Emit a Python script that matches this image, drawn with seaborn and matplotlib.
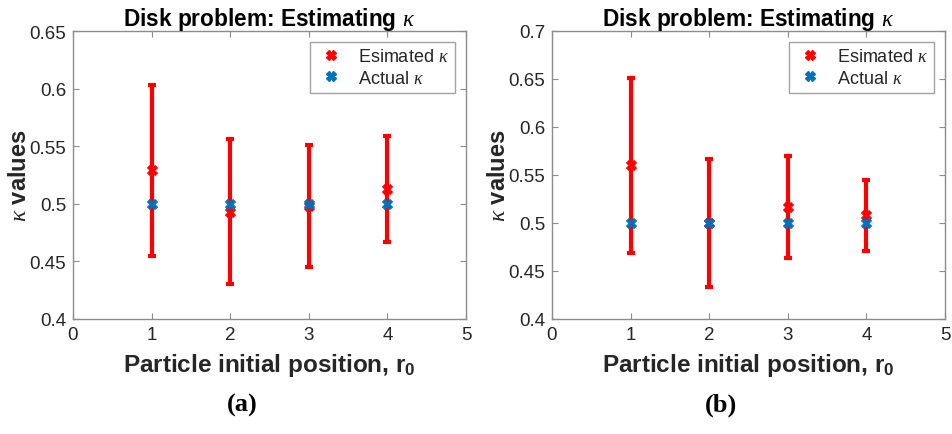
import numpy as np
import pandas as pd
import matplotlib
matplotlib.use("Agg")
import matplotlib.pyplot as plt
import seaborn as sns
from matplotlib.lines import Line2D

sns.set_theme(style="white")
plt.rcParams['font.family'] = ['Liberation Sans', 'DejaVu Sans']
plt.rcParams['mathtext.fontset'] = 'custom'
plt.rcParams['mathtext.it'] = 'Liberation Serif:italic'
plt.rcParams['mathtext.rm'] = 'Liberation Sans'
plt.rcParams['mathtext.bf'] = 'Liberation Sans:bold'

positions = [1, 2, 3, 4]
actual = [0.5, 0.5, 0.5, 0.5]

est_a = [0.529, 0.493, 0.498, 0.513]
err_a = [0.074, 0.063, 0.053, 0.046]

est_b = [0.560, 0.500, 0.517, 0.508]
err_b = [0.091, 0.067, 0.053, 0.037]

panels = [
    dict(est=est_a, err=err_a, ylim=(0.4, 0.65), yticks=[0.4, 0.45, 0.5, 0.55, 0.6, 0.65],
         ylabels=["0.4", "0.45", "0.5", "0.55", "0.6", "0.65"], caption="(a)", cap_x=242),
    dict(est=est_b, err=err_b, ylim=(0.4, 0.7), yticks=[0.4, 0.45, 0.5, 0.55, 0.6, 0.65, 0.7],
         ylabels=["0.4", "0.45", "0.5", "0.55", "0.6", "0.65", "0.7"], caption="(b)", cap_x=721),
]

xticks = [0, 1, 2, 3, 4, 5]

W, H = 953, 435
fig = plt.figure(figsize=(W / 100, H / 100), dpi=100)
rects = [(73, 32, 466, 320), (552, 32, 945, 320)]

RED = '#ff0000'
BLUE = '#0072bd'
SPINE = '#8c8c8c'
TXT = '#262626'

for p, (x0, y0, x1, y1) in zip(panels, rects):
    ax = fig.add_axes([x0 / W, 1 - y1 / H, (x1 - x0) / W, (y1 - y0) / H])
    df = pd.DataFrame({"pos": positions, "est": p["est"], "err": p["err"], "actual": actual})
    ax.errorbar(df["pos"], df["est"], yerr=df["err"], fmt='none', ecolor=RED,
                elinewidth=3, capsize=3, capthick=3, zorder=2)
    sns.scatterplot(data=df, x="pos", y="est", ax=ax, marker='X', color=RED, s=55,
                    edgecolor=RED, linewidth=0.5, zorder=3, legend=False)
    sns.scatterplot(data=df, x="pos", y="actual", ax=ax, marker='X', color=BLUE, s=55,
                    edgecolor=BLUE, linewidth=0.5, zorder=4, legend=False)
    ax.set_xlim(0, 5)
    ax.set_ylim(*p["ylim"])
    ax.set_xticks(xticks)
    ax.set_xticklabels([str(t) for t in xticks])
    ax.set_yticks(p["yticks"])
    ax.set_yticklabels(p["ylabels"])
    ax.tick_params(direction='in', length=4, width=0.8, color=SPINE, labelcolor=TXT,
                   labelsize=13.5, top=True, right=True, bottom=True, left=True, pad=5)
    for s in ax.spines.values():
        s.set_color(SPINE)
        s.set_linewidth(1.0)
    ax.set_xlabel(r"Particle initial position, r$_\mathbf{0}$", fontsize=17.5, fontweight='bold',
                  color=TXT, labelpad=6)
    ax.set_ylabel(r"$\kappa$ values", fontsize=17, fontweight='bold', color=TXT)
    ax.yaxis.set_label_coords(-0.108, 0.5)
    ax.set_title(r"Disk problem: Estimating $\kappa$", fontsize=16.3, fontweight='bold',
                 color='black', pad=4)
    handles = [Line2D([], [], linestyle='none', marker='X', color=RED, markersize=7),
               Line2D([], [], linestyle='none', marker='X', color=BLUE, markersize=7)]
    leg = ax.legend(handles, [r"Esimated $\kappa$", r"Actual $\kappa$"], loc='upper right',
                    fontsize=13, frameon=True, fancybox=False, borderaxespad=0.6,
                    handletextpad=0.7, borderpad=0.35, labelspacing=0.25, handlelength=1.6)
    leg.get_frame().set_edgecolor(SPINE)
    leg.get_frame().set_linewidth(1.0)
    for t in leg.get_texts():
        t.set_color(TXT)
    fig.text(p["cap_x"] / W, 1 - 405 / H, p["caption"], ha='center', va='center', fontsize=19,
             fontweight='bold', family='Liberation Serif', color='black')

fig.savefig("out.png", dpi=100)
